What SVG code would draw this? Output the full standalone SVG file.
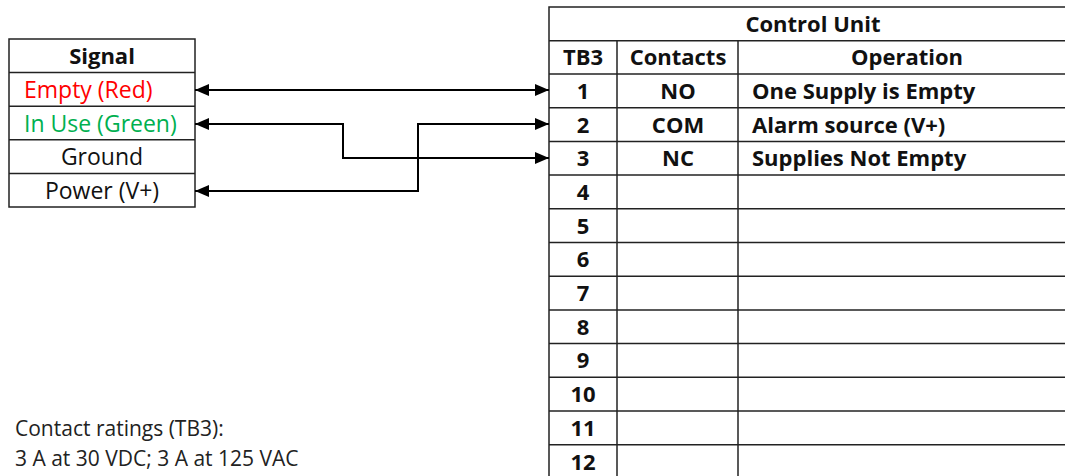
<svg xmlns="http://www.w3.org/2000/svg" width="1065" height="476" viewBox="0 0 1065 476">
<style>
.t{font-family:"Open Sans",Lato,sans-serif;font-size:22px;fill:#111}
.r{font-size:23px}
.b{font-weight:bold}
.c{text-anchor:middle}
.g{fill:none;stroke:#222;stroke-width:1.5}
.w{fill:none;stroke:#000;stroke-width:2}
.n{font-size:21px;fill:#222}
</style>
<defs>
<marker id="ah" viewBox="0 0 14 12" refX="14" refY="6" markerWidth="14" markerHeight="12" markerUnits="userSpaceOnUse" orient="auto-start-reverse">
<path d="M0,0 L14,6 L0,12 Z" fill="#000"/>
</marker>
</defs>
<rect width="1065" height="476" fill="#fff"/>
<g id="signal-table">
<rect class="g" x="9" y="39" width="186" height="168"/>
<line class="g" x1="9" y1="72.6" x2="195" y2="72.6"/>
<line class="g" x1="9" y1="106.2" x2="195" y2="106.2"/>
<line class="g" x1="9" y1="139.8" x2="195" y2="139.8"/>
<line class="g" x1="9" y1="173.4" x2="195" y2="173.4"/>
<text class="t b c" x="102" y="64">Signal</text>
<text class="t r" x="24" y="98" style="fill:#ff0000">Empty (Red)</text>
<text class="t r" x="24" y="132" style="fill:#00b050">In Use (Green)</text>
<text class="t r c" x="102" y="165">Ground</text>
<text class="t r c" x="102" y="199">Power (V+)</text>
</g>
<g id="control-unit">
<rect class="g" x="549" y="7" width="528" height="480"/>
<line class="g" x1="549" y1="40.7" x2="1077" y2="40.7"/>
<line class="g" x1="617" y1="40.7" x2="617" y2="480"/>
<line class="g" x1="738" y1="40.7" x2="738" y2="480"/>
<line class="g" x1="549" y1="74" x2="1077" y2="74"/>
<line class="g" x1="549" y1="107.7" x2="1077" y2="107.7"/>
<line class="g" x1="549" y1="141.4" x2="1077" y2="141.4"/>
<line class="g" x1="549" y1="175.1" x2="1077" y2="175.1"/>
<line class="g" x1="549" y1="208.8" x2="1077" y2="208.8"/>
<line class="g" x1="549" y1="242.5" x2="1077" y2="242.5"/>
<line class="g" x1="549" y1="276.2" x2="1077" y2="276.2"/>
<line class="g" x1="549" y1="309.9" x2="1077" y2="309.9"/>
<line class="g" x1="549" y1="343.6" x2="1077" y2="343.6"/>
<line class="g" x1="549" y1="377.3" x2="1077" y2="377.3"/>
<line class="g" x1="549" y1="411" x2="1077" y2="411"/>
<line class="g" x1="549" y1="444.7" x2="1077" y2="444.7"/>
<text class="t b c" x="813" y="32">Control Unit</text>
<text class="t b c" x="583" y="65">TB3</text>
<text class="t b c" x="678" y="65">Contacts</text>
<text class="t b c" x="907" y="65">Operation</text>
<text class="t b c" x="583" y="99">1</text>
<text class="t b c" x="583" y="133">2</text>
<text class="t b c" x="583" y="166">3</text>
<text class="t b c" x="583" y="200">4</text>
<text class="t b c" x="583" y="234">5</text>
<text class="t b c" x="583" y="267">6</text>
<text class="t b c" x="583" y="301">7</text>
<text class="t b c" x="583" y="335">8</text>
<text class="t b c" x="583" y="368">9</text>
<text class="t b c" x="583" y="402">10</text>
<text class="t b c" x="583" y="436">11</text>
<text class="t b c" x="583" y="470">12</text>
<text class="t b c" x="678" y="99">NO</text>
<text class="t b c" x="678" y="133">COM</text>
<text class="t b c" x="678" y="166">NC</text>
<text class="t b" x="752" y="99">One Supply is Empty</text>
<text class="t b" x="752" y="133">Alarm source (V+)</text>
<text class="t b" x="752" y="166">Supplies Not Empty</text>
</g>
<g id="connectors">
<path class="w" d="M195,90 H549" marker-start="url(#ah)" marker-end="url(#ah)"/>
<path class="w" d="M195,124 H343 V158 H549" marker-start="url(#ah)" marker-end="url(#ah)"/>
<path class="w" d="M195,191 H418 V124 H549" marker-start="url(#ah)" marker-end="url(#ah)"/>
</g>
<g id="notes">
<text class="t n" x="15" y="436">Contact ratings (TB3):</text>
<text class="t n" x="15" y="466">3 A at 30 VDC; 3 A at 125 VAC</text>
</g>
</svg>
